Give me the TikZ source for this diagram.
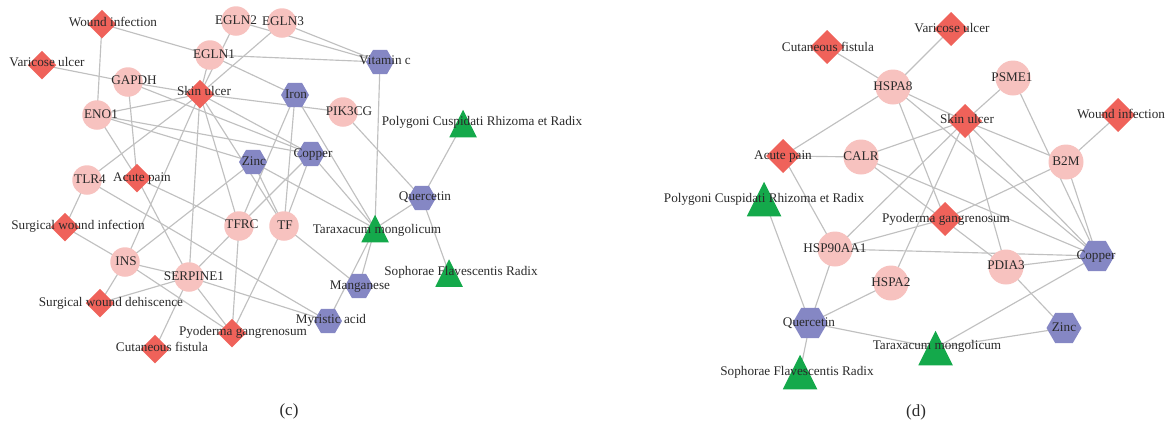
\documentclass[tikz,border=0pt]{standalone}
\usepackage{fontspec}
\setmainfont{Liberation Serif}
\usetikzlibrary{shapes.geometric,backgrounds}
\definecolor{pinkc}{HTML}{F7C2BF}
\definecolor{redc}{HTML}{EF625A}
\definecolor{purc}{HTML}{8587C4}
\definecolor{grnc}{HTML}{14A94B}
\definecolor{edgc}{HTML}{C0C0C0}
\definecolor{txtc}{HTML}{2A2A2A}
\begin{document}
\begin{tikzpicture}[x=1pt,y=-1pt,
  every node/.style={inner sep=0pt, outer sep=0pt},
  circS/.style={circle, fill=pinkc, minimum size=29.5pt},
  circL/.style={circle, fill=pinkc, minimum size=35pt},
  diaS/.style={diamond, aspect=1, fill=redc, minimum width=28.5pt, minimum height=28.5pt},
  diaL/.style={diamond, aspect=1, fill=redc, minimum width=34pt, minimum height=34pt},
  hexS/.style={regular polygon, regular polygon sides=6, fill=purc, minimum size=28pt},
  hexL/.style={regular polygon, regular polygon sides=6, fill=purc, minimum size=35pt},
  triS/.style={rectangle, minimum width=27.5pt, minimum height=27.5pt,
    path picture={\fill[grnc] (path picture bounding box.south west) -- (path picture bounding box.south east) -- (path picture bounding box.north) -- cycle;}},
  triL/.style={rectangle, minimum width=34.5pt, minimum height=34.5pt,
    path picture={\fill[grnc] (path picture bounding box.south west) -- (path picture bounding box.south east) -- (path picture bounding box.north) -- cycle;}},
  lbl/.style={font=\fontsize{13.2}{13.2}\selectfont, text=txtc, text height=8.5pt, text depth=2.5pt},
  subcap/.style={font=\fontsize{17}{17}\selectfont, text=txtc},
  link/.style={draw=edgc, line width=1.15pt}]
\path[use as bounding box] (0,0) rectangle (1168,429);

% ---------------- panel (c) shapes ----------------
\node[diaS] (c-wi) at (102,24) {};
\node[circS] (c-egln2) at (236,21) {};
\node[circS] (c-egln3) at (282,23) {};
\node[circS] (c-egln1) at (210,55) {};
\node[hexS] (c-vitc) at (380,62) {};
\node[diaS] (c-vu) at (42,65) {};
\node[circS] (c-gapdh) at (128,82) {};
\node[diaS] (c-su) at (200,94) {};
\node[hexS] (c-iron) at (295,95) {};
\node[circS] (c-pik) at (343,112) {};
\node[triS] (c-poly) at (463,123.5) {};
\node[circS] (c-eno1) at (97,115) {};
\node[hexS] (c-zinc) at (253,162) {};
\node[hexS] (c-copper) at (311,154) {};
\node[circS] (c-tlr4) at (87,180) {};
\node[diaS] (c-ap) at (137,178) {};
\node[hexS] (c-q) at (422,198) {};
\node[diaS] (c-swi) at (65,227) {};
\node[circS] (c-tfrc) at (239,226) {};
\node[circS] (c-tf) at (284,226) {};
\node[triS] (c-tar) at (375,228.5) {};
\node[circS] (c-ins) at (125,262) {};
\node[circS] (c-serp) at (189,277) {};
\node[triS] (c-soph) at (449,273) {};
\node[hexS] (c-mn) at (359,286) {};
\node[diaS] (c-swd) at (100,303) {};
\node[hexS] (c-myr) at (328,321) {};
\node[diaS] (c-pyo) at (232,333) {};
\node[diaS] (c-cf) at (155,349) {};

% ---------------- panel (d) shapes ----------------
\node[diaL] (d-vu) at (951,29) {};
\node[diaL] (d-cf) at (827,47) {};
\node[circL] (d-hspa8) at (893,87) {};
\node[circL] (d-psme1) at (1013,78) {};
\node[diaL] (d-su) at (965,121) {};
\node[diaL] (d-wi) at (1118,115) {};
\node[diaL] (d-ap) at (783,156) {};
\node[circL] (d-calr) at (861,157) {};
\node[circL] (d-b2m) at (1066,162) {};
\node[triL] (d-poly) at (764,199) {};
\node[diaL] (d-pyo) at (945,219) {};
\node[circL] (d-hsp90) at (835,249) {};
\node[hexL] (d-copper) at (1097,256) {};
\node[circL] (d-pdia3) at (1006,267) {};
\node[circL] (d-hspa2) at (891,283) {};
\node[hexL] (d-q) at (810,323) {};
\node[hexL] (d-zinc) at (1064,328) {};
\node[triL] (d-tar) at (935.5,348) {};
\node[triL] (d-soph) at (800,372) {};

% ---------------- connectors ----------------
\begin{scope}[on background layer]
\foreach \a/\b in {c-wi/c-egln1, c-wi/c-eno1, c-egln1/c-iron, c-egln1/c-vitc, c-egln2/c-vitc, c-egln3/c-vitc,
  c-su/c-egln1, c-su/c-egln2, c-su/c-egln3, c-vu/c-gapdh, c-gapdh/c-su, c-gapdh/c-ap, c-gapdh/c-copper,
  c-eno1/c-su, c-eno1/c-zinc, c-eno1/c-copper, c-eno1/c-ap, c-su/c-pik, c-su/c-tlr4, c-su/c-ins,
  c-su/c-serp, c-su/c-tfrc, c-su/c-tf, c-su/c-copper, c-iron/c-tfrc, c-iron/c-tf, c-iron/c-tar,
  c-copper/c-tfrc, c-copper/c-tf, c-copper/c-tar, c-zinc/c-ins, c-zinc/c-tf, c-zinc/c-tar,
  c-vitc/c-tar, c-tar/c-q, c-tar/c-mn, c-tar/c-myr, c-q/c-poly, c-q/c-soph, c-q/c-pik, c-tf/c-mn,
  c-myr/c-serp, c-tlr4/c-myr, c-ins/c-pyo, c-ins/c-serp, c-ins/c-swi, c-ins/c-swd, c-tlr4/c-swi,
  c-serp/c-swd, c-serp/c-cf, c-serp/c-pyo, c-serp/c-tfrc, c-tfrc/c-pyo, c-tf/c-pyo, c-ap/c-serp, c-ap/c-tfrc,
  d-cf/d-hspa8, d-vu/d-hspa8, d-hspa8/d-ap, d-hspa8/d-su, d-hspa8/d-copper, d-hspa8/d-pyo,
  d-psme1/d-su, d-psme1/d-copper, d-su/d-b2m, d-wi/d-b2m, d-b2m/d-copper, d-b2m/d-pyo,
  d-ap/d-calr, d-ap/d-hsp90, d-calr/d-su, d-calr/d-copper, d-calr/d-pdia3, d-su/d-hsp90, d-su/d-hspa2,
  d-su/d-pdia3, d-su/d-copper, d-hsp90/d-pyo, d-hsp90/d-copper, d-pdia3/d-copper, d-pdia3/d-zinc,
  d-copper/d-tar, d-zinc/d-tar, d-q/d-tar, d-q/d-hspa2, d-q/d-hsp90, d-q/d-poly, d-q/d-soph}
  \draw[link] (\a.center) -- (\b.center);
\end{scope}

% ---------------- labels (c) ----------------
\node[lbl] (c-wi-l) at (113,23) {Wound infection};
\node[lbl] (c-egln2-l) at (236,21) {EGLN2};
\node[lbl] (c-egln3-l) at (283,22) {EGLN3};
\node[lbl] (c-egln1-l) at (214,55) {EGLN1};
\node[lbl] (c-vitc-l) at (385,61) {Vitamin c};
\node[lbl] (c-vu-l) at (47,63) {Varicose ulcer};
\node[lbl] (c-gapdh-l) at (134,81) {GAPDH};
\node[lbl] (c-su-l) at (204,92) {Skin ulcer};
\node[lbl] (c-iron-l) at (296,95) {Iron};
\node[lbl] (c-pik-l) at (349,112) {PIK3CG};
\node[lbl] (c-poly-l) at (482,122) {Polygoni Cuspidati Rhizoma et Radix};
\node[lbl] (c-eno1-l) at (101,115) {ENO1};
\node[lbl] (c-zinc-l) at (254,162) {Zinc};
\node[lbl] (c-copper-l) at (313,154) {Copper};
\node[lbl] (c-tlr4-l) at (90,180) {TLR4};
\node[lbl] (c-ap-l) at (142,178) {Acute pain};
\node[lbl] (c-q-l) at (425,197) {Quercetin};
\node[lbl] (c-swi-l) at (78,226) {Surgical wound infection};
\node[lbl] (c-tfrc-l) at (242,225) {TFRC};
\node[lbl] (c-tf-l) at (285,226) {TF};
\node[lbl] (c-tar-l) at (377,230) {Taraxacum mongolicum};
\node[lbl] (c-ins-l) at (126,262) {INS};
\node[lbl] (c-serp-l) at (194,277) {SERPINE1};
\node[lbl] (c-soph-l) at (461,272) {Sophorae Flavescentis Radix};
\node[lbl] (c-mn-l) at (360,286) {Manganese};
\node[lbl] (c-swd-l) at (111,303) {Surgical wound dehiscence};
\node[lbl] (c-myr-l) at (331,320) {Myristic acid};
\node[lbl] (c-pyo-l) at (243,332) {Pyoderma gangrenosum};
\node[lbl] (c-cf-l) at (162,348) {Cutaneous fistula};
\node[subcap] (c-cap) at (289,411) {(c)};

% ---------------- labels (d) ----------------
\node[lbl] (d-vu-l) at (952,29) {Varicose ulcer};
\node[lbl] (d-cf-l) at (828,48) {Cutaneous fistula};
\node[lbl] (d-hspa8-l) at (893,87) {HSPA8};
\node[lbl] (d-psme1-l) at (1012,78) {PSME1};
\node[lbl] (d-su-l) at (967,120) {Skin ulcer};
\node[lbl] (d-wi-l) at (1121,115) {Wound infection};
\node[lbl] (d-ap-l) at (783,156) {Acute pain};
\node[lbl] (d-calr-l) at (861,157) {CALR};
\node[lbl] (d-b2m-l) at (1066,162) {B2M};
\node[lbl] (d-poly-l) at (764,199) {Polygoni Cuspidati Rhizoma et Radix};
\node[lbl] (d-pyo-l) at (946,219) {Pyoderma gangrenosum};
\node[lbl] (d-hsp90-l) at (835,249) {HSP90AA1};
\node[lbl] (d-copper-l) at (1096,256) {Copper};
\node[lbl] (d-pdia3-l) at (1006,266) {PDIA3};
\node[lbl] (d-hspa2-l) at (891,283) {HSPA2};
\node[lbl] (d-q-l) at (809,323) {Quercetin};
\node[lbl] (d-zinc-l) at (1064,328) {Zinc};
\node[lbl] (d-tar-l) at (937,346) {Taraxacum mongolicum};
\node[lbl] (d-soph-l) at (797,372) {Sophorae Flavescentis Radix};
\node[subcap] (d-cap) at (916,412) {(d)};
\end{tikzpicture}
\end{document}
